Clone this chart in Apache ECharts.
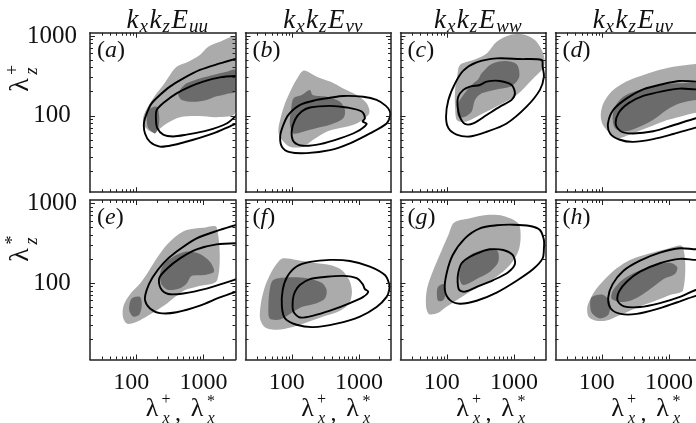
<!DOCTYPE html>
<html>
<head>
<meta charset="utf-8">
<script src="https://cdn.jsdelivr.net/npm/echarts@6/dist/echarts.min.js"></script>
<style>html,body{margin:0;padding:0;background:#fff}#c{width:696px;height:423px}</style>
</head>
<body>
<div id="c"></div>
<script>
// ---------------- axis ranges and ticks ----------------
const xMin = 20, xMax = 3000, yMin = 11, yMax = 1100;
const xLabelValues = [100, 1000];
const yLabelValues = [100, 1000];
const xMajorTop = [100];
const xMinorTop = [30, 40, 50, 60, 70, 80, 90];
const xMajorBottom = [100, 1000];
const xMinorBottom = [30, 40, 50, 60, 70, 80, 90, 200, 300, 400, 500, 600, 700, 800, 900, 2000];
const yMajor = [100, 1000];
const yMinor = [20, 30, 40, 50, 60, 70, 80, 90, 200, 300, 400, 500, 600, 700, 800, 900];

const columnTitles = ['uu', 'vv', 'ww', 'uv'];
const panelLetters = ['a', 'b', 'c', 'd', 'e', 'f', 'g', 'h'];

// ---------------- contour data  [lambda_x, lambda_z] ----------------
// (a)
const lightA = [[3000,961],[1754,848],[1173,735],[881,579],[589,476],[395,412],[314,325],[249,243],[199,191],[158,143],[128,102],[125,80],[149,66],[187,63],[280,80],[443,96],[881,99],[1566,96],[3000,109]];
const darkA1 = [[443,211],[557,255],[881,294],[1393,325],[2210,357],[3000,375],[3000,201],[2210,188],[1476,173],[1109,158],[700,150],[470,158],[418,182]];
const darkA2 = [[149,118],[199,130],[217,97],[210,70],[187,60],[149,70],[141,93]];
const outerA = [[3200,526],[1754,453],[881,375],[497,294],[314,232],[222,182],[167,143],[141,107],[128,80],[133,60],[158,47],[222,41],[352,43],[700,50],[1393,60],[2774,77],[3200,80]];
const innerA = [[3200,315],[1754,303],[988,268],[625,232],[395,191],[264,150],[199,118],[194,89],[203,70],[249,58],[352,55],[557,58],[1109,65],[2210,80],[3200,104]];
// (b)
const lightB = [[150,368],[232,309],[367,268],[580,220],[918,182],[1297,143],[1416,107],[918,80],[518,70],[327,63],[206,50],[146,41],[92,41],[70,50],[62,63],[66,89],[78,143],[98,220],[123,309]];
const darkB = [[104,165],[138,182],[184,211],[202,182],[327,173],[518,150],[614,118],[580,93],[367,77],[232,70],[146,63],[104,60],[92,80],[96,118]];
const outerB = [[2891,113],[2518,133],[1828,158],[1154,173],[580,177],[367,168],[232,158],[131,137],[87,102],[72,73],[66,55],[70,41],[92,35],[164,34],[367,37],[730,45],[1452,60],[2582,80],[2891,97]];
const innerB = [[184,127],[367,133],[652,127],[1092,113],[1222,93],[1130,85],[1297,79],[918,63],[518,52],[260,44],[146,42],[106,47],[98,63],[110,89],[138,113]];
// (c)
const lightC = [[155,433],[245,500],[389,605],[548,848],[867,1029],[1371,1047],[2048,891],[2728,605],[2793,412],[1932,294],[1092,182],[614,137],[308,102],[195,85],[141,87],[131,130],[131,211],[141,309]];
const darkC = [[327,340],[461,446],[730,486],[1092,441],[1194,309],[918,236],[548,214],[327,191],[260,158],[232,113],[184,97],[146,97],[143,137],[174,182],[232,243],[291,286]];
const outerC = [[2582,500],[1222,514],[548,524],[275,467],[174,368],[131,255],[104,158],[96,97],[104,70],[138,58],[219,55],[389,63],[773,80],[1538,130],[2432,211],[2793,309],[2672,412]];
const innerC = [[146,173],[174,211],[219,232],[308,243],[389,268],[614,273],[918,243],[1030,191],[918,158],[614,130],[389,102],[245,80],[184,79],[155,96],[143,130]];
// (d)
const lightD = [[138,201],[206,255],[327,303],[580,357],[1154,412],[2518,446],[3300,450],[3300,108],[2518,109],[1452,97],[817,85],[461,70],[260,58],[174,52],[131,60],[102,77],[95,102],[104,143]];
const darkD = [[155,130],[206,173],[327,206],[652,236],[1297,255],[2518,260],[3300,260],[3300,155],[2518,158],[1452,143],[918,118],[580,89],[327,70],[206,63],[155,70],[143,93]];
const outerD = [[3300,272],[2518,268],[1452,273],[817,250],[410,214],[232,165],[146,118],[122,80],[131,60],[184,50],[291,47],[580,51],[1154,59],[2518,71],[3300,75]];
const innerD = [[3300,221],[2518,214],[1452,219],[817,204],[410,177],[245,143],[174,107],[160,77],[195,63],[291,60],[580,64],[1154,76],[2518,93],[3300,98]];
// (e)
const lightE = [[557,463],[988,495],[1566,500],[1600,109],[787,90],[526,82],[373,67],[264,53],[187,44],[133,37],[94,32],[71,31],[62,38],[64,53],[81,74],[112,99],[149,139],[199,204],[280,300],[395,393]];
const darkE1 = [[352,214],[557,248],[881,232],[1244,185],[1427,139],[988,126],[662,123],[557,99],[443,86],[296,82],[236,95],[222,126],[249,168]];
const darkE2 = [[84,64],[112,67],[119,53],[109,40],[89,38],[77,46]];
const outerE = [[3200,540],[1754,463],[787,364],[395,248],[249,177],[173,118],[141,82],[133,61],[158,48],[222,42],[395,43],[881,52],[1754,66],[3200,79]];
const innerE = [[3200,316],[1566,306],[787,265],[443,204],[280,150],[217,115],[228,86],[296,73],[497,74],[1109,85],[2210,102],[3200,113]];
// (f)
const lightF = [[73,204],[116,195],[206,180],[367,168],[548,146],[713,109],[782,78],[713,56],[518,45],[291,38],[164,32],[98,28],[59,26],[39,28],[33,36],[34,56],[39,90],[49,139],[62,185]];
const darkF = [[52,109],[92,118],[164,115],[275,101],[327,82],[308,64],[232,56],[138,50],[92,41],[66,35],[46,36],[44,51],[46,82]];
const outerF = [[2820,97],[2432,126],[1452,161],[730,189],[367,195],[184,184],[116,161],[84,120],[72,82],[70,51],[78,36],[116,30],[206,28],[461,31],[1030,38],[1828,50],[2582,67],[2820,82]];
const innerF = [[131,95],[184,112],[327,120],[580,123],[918,115],[1130,97],[1222,84],[1371,78],[1154,67],[730,56],[367,45],[206,39],[131,37],[104,44],[102,61],[110,78]];
// (g)
const lightG = [[126,572],[219,649],[389,713],[688,694],[1154,562],[1253,382],[1154,248],[867,168],[548,120],[346,95],[219,78],[138,61],[96,50],[72,42],[53,41],[48,53],[50,86],[62,146],[83,260],[104,400]];
const darkG1 = [[174,185],[245,236],[389,265],[560,255],[580,185],[436,139],[308,118],[219,101],[170,95],[151,123]];
const darkG2 = [[73,90],[89,97],[96,78],[87,61],[73,60],[70,74]];
const outerG = [[2793,347],[2432,463],[1726,519],[971,539],[548,530],[308,486],[184,364],[121,225],[98,133],[92,82],[110,61],[155,55],[275,60],[548,76],[1092,107],[1932,150],[2672,204],[2793,273]];
const innerG = [[146,133],[164,177],[219,214],[327,248],[436,265],[688,260],[951,225],[1030,173],[817,137],[488,109],[281,90],[184,78],[151,82],[143,104]];
// (h)
const lightH = [[104,107],[164,153],[260,195],[518,236],[918,268],[1594,286],[1626,82],[1030,71],[652,61],[410,53],[260,45],[174,39],[116,34],[78,34],[62,38],[60,51],[70,69],[84,87]];
const darkH1 = [[146,82],[206,112],[327,139],[580,164],[1030,180],[1324,158],[1222,130],[817,112],[580,90],[410,73],[275,61],[184,58],[138,64]];
const darkH2 = [[70,67],[104,71],[131,56],[123,40],[92,36],[70,42],[66,53]];
const outerH = [[3300,270],[2518,265],[1452,273],[730,241],[367,191],[206,142],[143,97],[123,66],[134,48],[189,41],[327,41],[652,47],[1297,57],[2518,69],[3300,72]];
const innerH = [[3300,198],[2518,195],[1452,201],[730,177],[367,139],[232,104],[178,78],[170,60],[211,51],[367,50],[730,56],[1452,67],[2518,82],[3300,86]];

const panelData = [
  {light: [lightA], dark: [darkA1, darkA2], lines: [outerA, innerA], closed: false},
  {light: [lightB], dark: [darkB], lines: [outerB, innerB], closed: true},
  {light: [lightC], dark: [darkC], lines: [outerC, innerC], closed: true},
  {light: [lightD], dark: [darkD], lines: [outerD, innerD], closed: false},
  {light: [lightE], dark: [darkE1, darkE2], lines: [outerE, innerE], closed: false},
  {light: [lightF], dark: [darkF], lines: [outerF, innerF], closed: true},
  {light: [lightG], dark: [darkG1, darkG2], lines: [outerG, innerG], closed: true},
  {light: [lightH], dark: [darkH1, darkH2], lines: [outerH, innerH], closed: false}
];

// ---------------- layout / style ----------------
const colLeft = [90, 245.5, 400.5, 555.5];
const rowTop = [32.7, 200];
const panelW = 145.5, panelH = 159.5;
const SERIF = '"Liberation Serif", "DejaVu Serif", serif';
const INK = '#111';
const LIGHT = '#ababab', DARK = '#6b6b6b';
const tickLine = {color: '#222', width: 1};
const frameLine = {color: '#222', width: 1.5};

const option = {
  animation: false,
  backgroundColor: '#fff',
  grid: [], xAxis: [], yAxis: [], series: [],
  graphic: {elements: []}
};

function mkAxis(dim, gi, pos, vals, len, extra) {
  const a = {
    gridIndex: gi, type: 'log', logBase: 10, position: pos, z: 10,
    min: dim === 'x' ? xMin : yMin, max: dim === 'x' ? xMax : yMax,
    splitLine: {show: false}, axisPointer: {show: false},
    axisLine: {show: false, onZero: false},
    axisTick: {show: true, inside: true, length: len, customValues: vals, lineStyle: tickLine},
    axisLabel: {show: false}
  };
  return Object.assign(a, extra || {});
}

function polySeries(gi, pts, fill) {
  return {
    type: 'custom', xAxisIndex: gi * 4, yAxisIndex: gi * 4, clip: true, silent: true, z: 2,
    data: pts, encode: {x: 0, y: 1},
    renderItem: function (params, api) {
      if (params.dataIndex !== 0) return null;
      return {type: 'polygon', shape: {points: pts.map(p => api.coord(p)), smooth: 0.3},
              style: {fill: fill, stroke: null}};
    }
  };
}
function lineSeries(gi, pts, closed) {
  return {
    type: 'custom', xAxisIndex: gi * 4, yAxisIndex: gi * 4, clip: true, silent: true, z: 3,
    data: pts, encode: {x: 0, y: 1},
    renderItem: function (params, api) {
      if (params.dataIndex !== 0) return null;
      return {type: closed ? 'polygon' : 'polyline',
              shape: {points: pts.map(p => api.coord(p)), smooth: 0.3},
              style: {fill: null, stroke: '#000', lineWidth: 1.9}};
    }
  };
}

panelData.forEach(function (pd, i) {
  const row = Math.floor(i / 4), col = i % 4;
  const L = colLeft[col], T = rowTop[row];
  option.grid.push({left: L, top: T, width: panelW, height: panelH, containLabel: false, outerBoundsMode: 'none'});

  const xMaj = row === 0 ? xMajorTop : xMajorBottom;
  const xMin_ = row === 0 ? xMinorTop : xMinorBottom;
  const xLab = row === 1 ? {
    show: true, customValues: xLabelValues, margin: 23, verticalAlign: 'middle',
    formatter: function (v) { return Math.round(v) === 100 ? '{a|100}' : '{b|1000}'; },
    rich: {
      a: {fontFamily: SERIF, fontSize: 24, color: INK, padding: [0, 11, 0, 0]},
      b: {fontFamily: SERIF, fontSize: 24, color: INK}
    }
  } : {show: false};
  option.xAxis.push(
    mkAxis('x', i, 'bottom', xMaj, 5, {axisLine: {show: true, onZero: false, lineStyle: frameLine}, axisLabel: xLab}),
    mkAxis('x', i, 'bottom', xMin_, 3),
    mkAxis('x', i, 'top', xMaj, 5, {axisLine: {show: true, onZero: false, lineStyle: frameLine}}),
    mkAxis('x', i, 'top', xMin_, 3)
  );
  const yLab = col === 0 ? {
    show: true, customValues: yLabelValues, margin: 38, align: 'center', verticalAlign: 'middle',
    fontFamily: SERIF, fontSize: 25, color: INK,
    formatter: function (v) { return String(Math.round(v)); }
  } : {show: false};
  option.yAxis.push(
    mkAxis('y', i, 'left', yMajor, 5, {axisLine: {show: true, onZero: false, lineStyle: frameLine}, axisLabel: yLab}),
    mkAxis('y', i, 'left', yMinor, 3),
    mkAxis('y', i, 'right', yMajor, 5, {axisLine: {show: true, onZero: false, lineStyle: frameLine}}),
    mkAxis('y', i, 'right', yMinor, 3)
  );

  pd.light.forEach(p => option.series.push(polySeries(i, p, LIGHT)));
  pd.dark.forEach(p => option.series.push(polySeries(i, p, DARK)));
  pd.lines.forEach(p => option.series.push(lineSeries(i, p, pd.closed)));

  // panel letter
  option.graphic.elements.push({
    type: 'text', x: L + 7, y: T + 18, z: 20,
    style: {
      text: '{p|(}{i|' + panelLetters[i] + '}{p|)}',
      align: 'left', verticalAlign: 'middle', textAlign: 'left', textVerticalAlign: 'middle',
      rich: {
        p: {fontFamily: SERIF, fontSize: 24, fill: INK, color: INK},
        i: {fontFamily: SERIF, fontSize: 24, fontStyle: 'italic', fill: INK, color: INK}
      }
    }
  });
  // x-axis name under bottom row
  if (row === 1) {
    const y0 = 409;
    const add = (x, y, t, size, italic) => option.graphic.elements.push({
      type: 'text', x: x, y: y, z: 20,
      style: {text: t, fontFamily: SERIF, fontSize: size, fontStyle: italic ? 'italic' : 'normal',
              fill: INK, align: 'center', verticalAlign: 'middle', textAlign: 'center', textVerticalAlign: 'middle'}
    });
    add(L + 62, y0, 'λ', 26, false);
    add(L + 76, y0 - 9, '+', 16, false);
    add(L + 76, y0 + 10, 'x', 16, true);
    add(L + 88, y0 + 5, ',', 24, false);
    add(L + 107, y0, 'λ', 26, false);
    add(L + 121, y0 - 7, '*', 16, false);
    add(L + 121, y0 + 10, 'x', 16, true);
  }
});

// column titles
columnTitles.forEach(function (c, k) {
  option.graphic.elements.push({
    type: 'text', x: colLeft[k] + 78, y: 21, z: 20,
    style: {
      text: '{m|k}{s|x}{m|k}{s|z}{m|E}{s|' + c + '}',
      align: 'center', verticalAlign: 'middle', textAlign: 'center', textVerticalAlign: 'middle',
      rich: {
        m: {fontFamily: SERIF, fontSize: 27, fontStyle: 'italic', fill: INK, color: INK},
        s: {fontFamily: SERIF, fontSize: 19, fontStyle: 'italic', fill: INK, color: INK, padding: [12, 1.5, 0, 1]}
      }
    }
  });
});

// rotated y-axis names
[['+', 0], ['*', 170]].forEach(function (d) {
  const dy = d[1];
  const rot = (x, y, t, size, italic) => option.graphic.elements.push({
    type: 'text', x: x, y: y + dy, rotation: Math.PI / 2, z: 20,
    style: {text: t, fontFamily: SERIF, fontSize: size, fontStyle: italic ? 'italic' : 'normal',
            fill: INK, align: 'center', verticalAlign: 'middle', textAlign: 'center', textVerticalAlign: 'middle'}
  });
  rot(21, 85, 'λ', 28, false);
  rot(13, 70, d[0], 18, false);
  rot(32, 71, 'z', 18, true);
});

const chart = echarts.init(document.getElementById('c'), null, {renderer: 'canvas'});
chart.setOption(option);
</script>
</body>
</html>
